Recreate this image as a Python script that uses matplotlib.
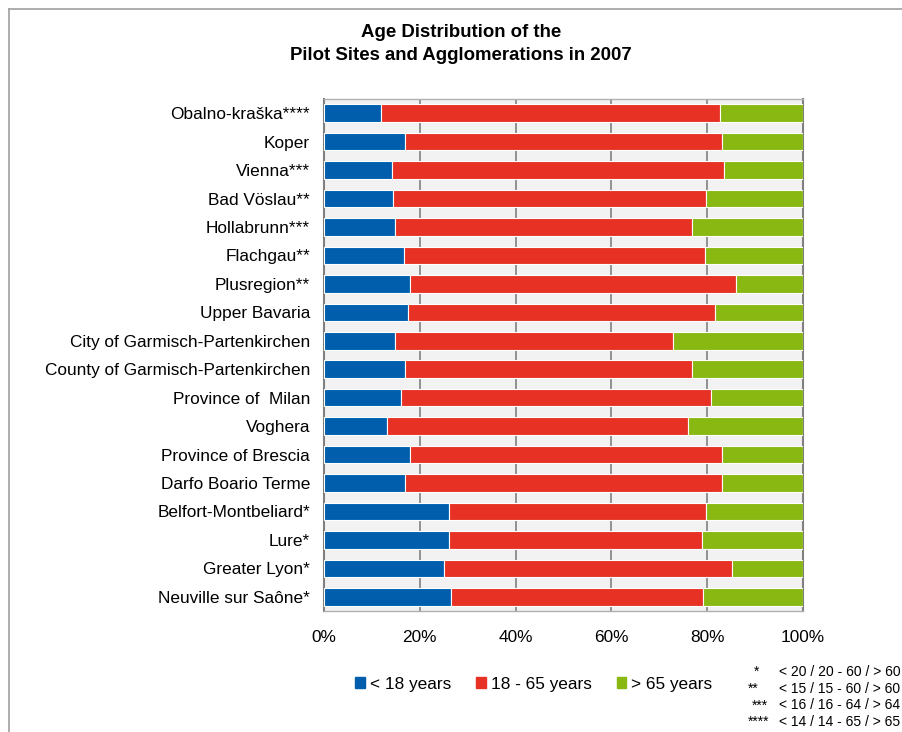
import numpy as np
import matplotlib.pyplot as plt
from matplotlib.patches import Patch

plt.rcParams['font.family'] = ['Liberation Sans', 'DejaVu Sans']

# sites, top to bottom
sites = ['Obalno-kraška****', 'Koper', 'Vienna***', 'Bad Vöslau**', 'Hollabrunn***',
         'Flachgau**', 'Plusregion**', 'Upper Bavaria', 'City of Garmisch-Partenkirchen',
         'County of Garmisch-Partenkirchen', 'Province of  Milan', 'Voghera',
         'Province of Brescia', 'Darfo Boario Terme', 'Belfort-Montbeliard*', 'Lure*',
         'Greater Lyon*', 'Neuville sur Saône*']
# shares in percent
young = [11.8, 17.0, 14.3, 14.5, 14.9, 16.6, 18.0, 17.5, 14.9, 17.0, 16.0, 13.1,
         18.0, 17.0, 26.2, 26.2, 25.1, 26.6]
middle = [70.9, 66.1, 69.3, 65.3, 62.0, 63.0, 68.1, 64.2, 57.9, 59.9, 64.8, 62.9,
          65.1, 66.1, 53.6, 52.8, 60.0, 52.6]
old = [17.3, 16.9, 16.4, 20.2, 23.1, 20.4, 13.9, 18.3, 27.2, 23.1, 19.2, 24.0,
       16.9, 16.9, 20.2, 21.0, 14.9, 20.8]
series_names = ['< 18 years', '18 - 65 years', '> 65 years']
colors = ['#005EAD', '#E73125', '#88B811']

stars = ['*', '**', '***', '****']
star_notes = ['< 20 / 20 - 60 / > 60', '< 15 / 15 - 60 / > 60',
              '< 16 / 16 - 64 / > 64', '< 14 / 14 - 65 / > 65']

fig = plt.figure(figsize=(9.03, 7.32), dpi=100)
ax = fig.add_axes([324/903, 1-611/732, 479/903, 512/732])
ax.set_facecolor('#F2F2F2')

y = np.arange(len(sites))
left = np.zeros(len(sites))
for vals, c in zip([young, middle, old], colors):
    ax.barh(y, vals, left=left, height=0.62, color=c, edgecolor='white',
            linewidth=0.8, zorder=3)
    left += np.array(vals)

ax.set_ylim(len(sites)-0.5, -0.5)
ax.set_xlim(0, 100)
ax.set_xticks([0, 20, 40, 60, 80, 100])
ax.set_xticklabels(['0%', '20%', '40%', '60%', '80%', '100%'], fontsize=12.4)
ax.set_yticks(y)
ax.set_yticklabels(sites, fontsize=12.4)
ax.tick_params(length=0)
ax.tick_params(axis='y', pad=10)
ax.tick_params(axis='x', pad=14)
ax.xaxis.grid(True, color='#808080', linewidth=1.2, zorder=0)
ax.set_axisbelow(True)
for s in ['left', 'right']:
    ax.spines[s].set_color('#808080')
    ax.spines[s].set_linewidth(1.5)
for s in ['top', 'bottom']:
    ax.spines[s].set_color('#B0B0B0')
    ax.spines[s].set_linewidth(1)

fig.text(461/903, 1-44/732, 'Age Distribution of the\nPilot Sites and Agglomerations in 2007',
         ha='center', va='center', fontsize=13.4, fontweight='bold', linespacing=1.4)

handles = [Patch(color=c) for c in colors]
fig.legend(handles, series_names, loc='center', bbox_to_anchor=(534/903, 1-684/732),
           ncol=3, frameon=False, fontsize=12.4, handlelength=0.55, handleheight=0.55,
           handletextpad=0.3, columnspacing=1.45)

for i, (s, note) in enumerate(zip(stars, star_notes)):
    yy = 1 - (672 + i*16.7)/732
    sx = [754, 748, 752, 748][i]
    fig.text(sx/903, yy, s, fontsize=10, va='center')
    fig.text(779/903, yy, note, fontsize=10, va='center')

# frame around the chart area
fig.add_artist(plt.Line2D([8.5/903, 1], [1-8.5/732, 1-8.5/732], color='#A0A0A0', lw=1.2))
fig.add_artist(plt.Line2D([8.5/903, 8.5/903], [0, 1-8.5/732], color='#A0A0A0', lw=1.2))

fig.savefig('out.png', dpi=100)
